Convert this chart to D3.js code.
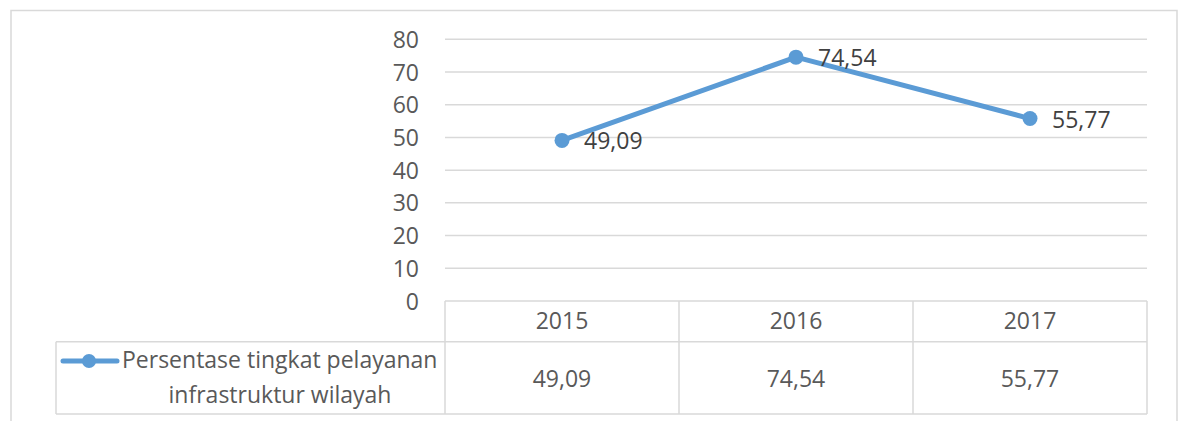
<!DOCTYPE html>
<html>
<head>
<meta charset="utf-8">
<script src="https://cdn.jsdelivr.net/npm/d3@7"></script>
<style>
  body { margin: 0; background: #fff; }
  text { font-family: "Open Sans", "Noto Sans", sans-serif; }
</style>
</head>
<body>
<svg id="chart"></svg>
<script>
// data
const years = ["2015", "2016", "2017"];
const values = [49.09, 74.54, 55.77];
const yTicks = [0, 10, 20, 30, 40, 50, 60, 70, 80];
const seriesName = ["Persentase tingkat pelayanan", "infrastruktur wilayah"];

const fmt = v => d3.format(".2f")(v).replace(".", ",");

// svg size
let width = 1181,
  height = 421,
  fontSize = 23;

const plotLeft = 445, plotRight = 1147, plotTop = 39.3, plotBottom = 301;
const row1 = 341.7, row2 = 414, legendLeft = 56;
const gridColor = "#d9d9d9", lineColor = "#5b9bd5";

const svg = d3.select("#chart")
  .attr("width", width)
  .attr("height", height);

// outer chart frame (bottom edge is cut off)
svg.append("path")
  .attr("d", `M11,${height + 5}V10.5H1177V${height + 5}`)
  .attr("fill", "none")
  .attr("stroke", gridColor)
  .attr("stroke-width", 1.5);

let xScale = d3.scaleBand()
  .domain(years)
  .range([plotLeft, plotRight]);

let yScale = d3.scaleLinear()
  .domain([0, 80])
  .range([plotBottom, plotTop]);

// gridlines
svg.append("g")
  .selectAll("line")
  .data(yTicks.filter(d => d > 0))
  .enter()
  .append("line")
  .attr("x1", plotLeft)
  .attr("x2", plotRight)
  .attr("y1", d => yScale(d))
  .attr("y2", d => yScale(d))
  .attr("stroke", gridColor)
  .attr("stroke-width", 1.5);

// y axis labels
let y_axis = d3.axisLeft(yScale)
  .tickValues(yTicks)
  .tickSize(0)
  .tickPadding(0);

let yG = svg.append("g")
  .attr("transform", `translate(419,0)`)
  .call(y_axis);
yG.select(".domain").remove();
yG.selectAll("text")
  .attr("font-size", fontSize)
  .attr("fill", "#595959")
  .attr("font-family", "Open Sans, Noto Sans, sans-serif")
  .attr("dy", "0.35em");

// data table lines
const table = svg.append("g")
  .attr("stroke", gridColor)
  .attr("stroke-width", 1.5);
table.append("line").attr("x1", plotLeft).attr("x2", plotRight).attr("y1", plotBottom).attr("y2", plotBottom);
table.append("line").attr("x1", legendLeft).attr("x2", plotRight).attr("y1", row1).attr("y2", row1);
table.append("line").attr("x1", legendLeft).attr("x2", plotRight).attr("y1", row2).attr("y2", row2);
table.append("line").attr("x1", legendLeft).attr("x2", legendLeft).attr("y1", row1).attr("y2", row2);
table.selectAll(".col")
  .data(years.concat(["end"]))
  .enter()
  .append("line")
  .attr("x1", (d, i) => plotLeft + i * xScale.bandwidth())
  .attr("x2", (d, i) => plotLeft + i * xScale.bandwidth())
  .attr("y1", plotBottom)
  .attr("y2", row2);

// table text
svg.append("g")
  .selectAll("text")
  .data(years)
  .enter()
  .append("text")
  .attr("x", d => xScale(d) + xScale.bandwidth() / 2)
  .attr("y", 329)
  .attr("text-anchor", "middle")
  .attr("font-size", fontSize)
  .attr("fill", "#595959")
  .text(d => d);

svg.append("g")
  .selectAll("text")
  .data(values)
  .enter()
  .append("text")
  .attr("x", (d, i) => xScale(years[i]) + xScale.bandwidth() / 2)
  .attr("y", 387)
  .attr("text-anchor", "middle")
  .attr("font-size", fontSize)
  .attr("fill", "#595959")
  .text(d => fmt(d));

// legend key
svg.append("line")
  .attr("x1", 63).attr("x2", 117)
  .attr("y1", 361).attr("y2", 361)
  .attr("stroke", lineColor)
  .attr("stroke-width", 5)
  .attr("stroke-linecap", "round");
svg.append("circle")
  .attr("cx", 89).attr("cy", 361).attr("r", 7)
  .attr("fill", lineColor);

svg.append("g")
  .selectAll("text")
  .data(seriesName)
  .enter()
  .append("text")
  .attr("x", (d, i) => i === 0 ? 122 : 280)
  .attr("y", (d, i) => 368 + i * 35)
  .attr("text-anchor", (d, i) => i === 0 ? "start" : "middle")
  .attr("font-size", fontSize)
  .attr("fill", "#595959")
  .text(d => d);

// the line
const pts = values.map((v, i) => [xScale(years[i]) + xScale.bandwidth() / 2, yScale(v)]);

svg.append("path")
  .datum(pts)
  .attr("d", d3.line())
  .attr("fill", "none")
  .attr("stroke", lineColor)
  .attr("stroke-width", 5)
  .attr("stroke-linejoin", "round");

svg.append("g")
  .selectAll("circle")
  .data(pts)
  .enter()
  .append("circle")
  .attr("cx", d => d[0])
  .attr("cy", d => d[1])
  .attr("r", 7.5)
  .attr("fill", lineColor);

// data labels
svg.append("g")
  .selectAll("text")
  .data(values)
  .enter()
  .append("text")
  .attr("x", (d, i) => pts[i][0] + 22)
  .attr("y", (d, i) => pts[i][1] + 9)
  .attr("font-size", fontSize)
  .attr("fill", "#404040")
  .text(d => fmt(d));
</script>
</body>
</html>
